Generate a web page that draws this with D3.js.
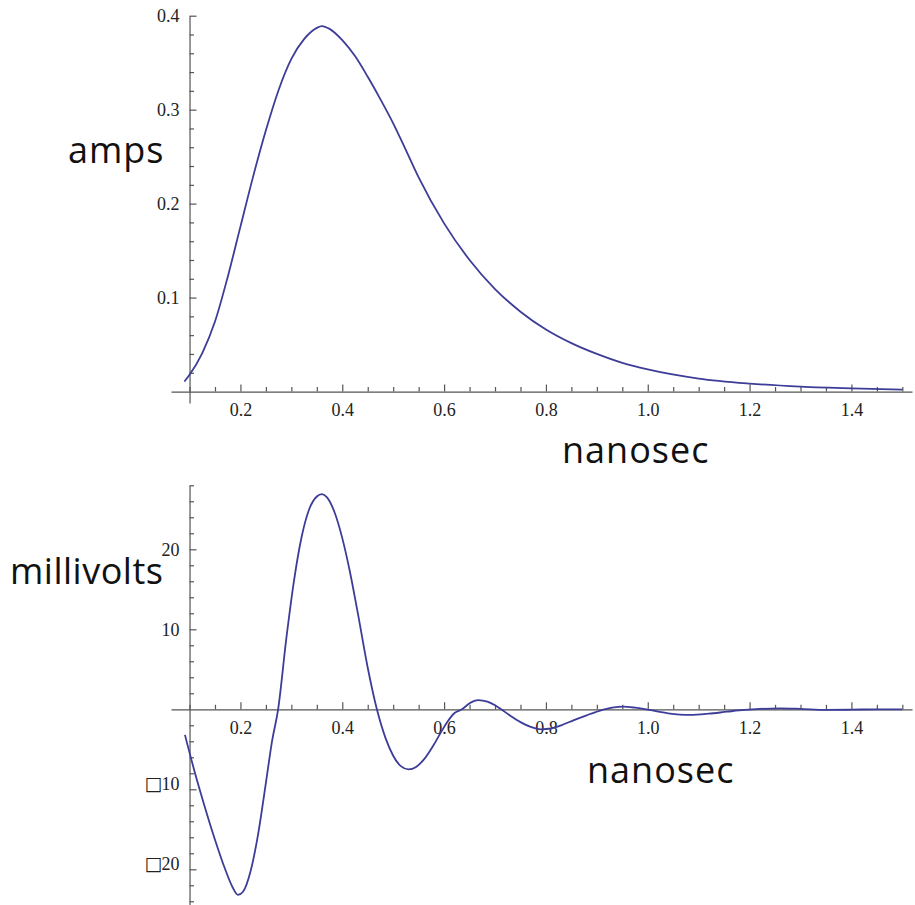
<!DOCTYPE html>
<meta charset="utf-8">

<head>
	<script src="https://cdn.jsdelivr.net/npm/d3@7"></script>
	<style>
		body { margin: 0; background: #fff; }
		.tick text { font-family: "Liberation Serif", serif; font-size: 18px; fill: #222; }
		.axis path, .axis line { stroke: #555; stroke-width: 1.2; }
		.title { font-family: "Open Sans", sans-serif; font-size: 36px; letter-spacing: 1px; fill: #111; }
		.curve { fill: none; stroke: #3d3d99; stroke-width: 1.8; }
	</style>
</head>

<body>
	<svg id="svg"></svg>
</body>
<script>
	// current pulse (top plot)
	var ampT = [0.09, 0.1, 0.125, 0.15, 0.175, 0.2, 0.225, 0.25, 0.275, 0.3, 0.325, 0.35, 0.36, 0.375,
		0.4, 0.425, 0.45, 0.475, 0.5, 0.525, 0.55, 0.6, 0.65, 0.7, 0.75, 0.8, 0.85, 0.9, 0.95, 1.0,
		1.1, 1.2, 1.3, 1.4, 1.5];
	var ampValues = [0.0106, 0.0178, 0.041, 0.0745, 0.122, 0.1755, 0.229, 0.278, 0.321, 0.354, 0.375, 0.387, 0.389, 0.386,
		0.374, 0.357, 0.335, 0.311, 0.2855, 0.257, 0.228, 0.179, 0.140, 0.109, 0.085, 0.066, 0.0515, 0.040, 0.0305, 0.0235,
		0.0138, 0.0085, 0.0052, 0.0033, 0.0021];

	// voltage (bottom plot)
	var mvT = [0.091, 0.11, 0.13, 0.15, 0.17, 0.185, 0.195, 0.205, 0.22, 0.235, 0.25, 0.262, 0.274,
		0.29, 0.305, 0.32, 0.335, 0.35, 0.36, 0.37, 0.385, 0.4, 0.415, 0.43, 0.45, 0.468,
		0.485, 0.5, 0.515, 0.53, 0.545, 0.56, 0.58, 0.6, 0.62, 0.635, 0.65, 0.667, 0.685, 0.7,
		0.712, 0.73, 0.75, 0.77, 0.79, 0.81, 0.83, 0.855, 0.88, 0.905, 0.93, 0.952, 0.975, 1.0,
		1.04, 1.083, 1.12, 1.156, 1.19, 1.22, 1.26, 1.3, 1.35, 1.4, 1.45, 1.5];
	var mvValues = [-3.2, -7.8, -12.2, -16.3, -20.0, -22.3, -23.2, -22.8, -20.2, -15.5, -9.2, -4.0, 0,
		8.8, 16.0, 21.5, 25.0, 26.6, 26.9, 26.5, 24.6, 21.4, 17.2, 12.2, 5.2, 0,
		-3.6, -5.8, -7.1, -7.5, -7.2, -6.3, -4.4, -2.2, -0.5, 0, 0.75, 1.15, 0.95, 0.5,
		0, -0.8, -1.6, -2.2, -2.5, -2.4, -2.0, -1.35, -0.75, -0.2, 0.2, 0.33, 0.2, -0.05,
		-0.5, -0.7, -0.55, -0.3, -0.08, 0.05, 0.12, 0.05, -0.08, -0.05, 0, 0];

	var xTicks = [0.2, 0.4, 0.6, 0.8, 1.0, 1.2, 1.4];
	var xMinor = [0.1, 0.15, 0.25, 0.3, 0.35, 0.45, 0.5, 0.55, 0.65, 0.7, 0.75, 0.85, 0.9, 0.95, 1.05, 1.1, 1.15, 1.25, 1.3, 1.35, 1.45, 1.5];
	var ampTicks = [0.1, 0.2, 0.3, 0.4];
	var ampTickLabels = ["0.1", "0.2", "0.3", "0.4"];
	var ampMinor = [0.02, 0.04, 0.06, 0.08, 0.12, 0.14, 0.16, 0.18, 0.22, 0.24, 0.26, 0.28, 0.32, 0.34, 0.36, 0.38];
	var mvTicks = [-20, -10, 10, 20];
	// the minus sign shows as a missing-glyph box in the original
	var mvTickLabels = ["\u25A120", "\u25A110", "10", "20"];
	var mvMinor = [-24, -22, -18, -16, -14, -12, -8, -6, -4, -2, 2, 4, 6, 8, 12, 14, 16, 18, 22, 24, 26, 28];

	var width = 915, height = 905;

	var svg = d3.select("#svg")
		.attr("width", width)
		.attr("height", height);

	var x = d3.scaleLinear().domain([0.0636, 1.519]).range([171, 912]);

	// top plot scale
	var yAmp = d3.scaleLinear().domain([-0.0122, 0.4]).range([403, 15.7]);
	// bottom plot scale
	var yMv = d3.scaleLinear().domain([-24.5, 28]).range([905.3, 485.3]);

	function drawPlot(y, tVals, vVals, yTicks, yLabels, yMinor) {
		var g = svg.append("g");

		// x axis, ticks pointing up
		var gx = g.append("g").attr("class", "axis")
			.attr("transform", "translate(0," + y(0) + ")");
		gx.call(d3.axisBottom(x).tickValues(xTicks).tickFormat(d3.format(".1f"))
			.tickSizeInner(-7).tickSizeOuter(0).tickPadding(12));
		gx.append("g").call(d3.axisBottom(x).tickValues(xMinor).tickFormat("")
			.tickSizeInner(-4.5).tickSizeOuter(0))
			.select(".domain").remove();

		// y axis, ticks pointing right
		var gy = g.append("g").attr("class", "axis")
			.attr("transform", "translate(" + x(0.1) + ",0)");
		gy.call(d3.axisLeft(y).tickValues(yTicks).tickFormat("")
			.tickSizeInner(-7).tickSizeOuter(0).tickPadding(10));
		gy.append("g").call(d3.axisLeft(y).tickValues(yMinor).tickFormat("")
			.tickSizeInner(-4.5).tickSizeOuter(0))
			.select(".domain").remove();

		// y labels, with a box glyph where the minus was
		gy.selectAll(".tick").filter(d => yTicks.indexOf(d) >= 0)
			.select("text")
			.each(function (d) {
				var s = yLabels[yTicks.indexOf(d)];
				var t = d3.select(this);
				if (s.charAt(0) == "\u25A1") {
					t.append("tspan").attr("font-family", "DejaVu Sans").style("font-size", "19px")
						.attr("dy", "0.02em").text(s.charAt(0));
					t.append("tspan").attr("dy", "-0.02em").attr("dx", "-1").text(s.slice(1));
				} else {
					t.text(s);
				}
			});

		var pts = tVals.map((t, i) => [t, vVals[i]]);
		var line = d3.line()
			.x(d => x(d[0]))
			.y(d => y(d[1]))
			.curve(d3.curveMonotoneX);

		g.append("path")
			.attr("class", "curve")
			.attr("d", line(pts));
	}

	drawPlot(yAmp, ampT, ampValues, ampTicks, ampTickLabels, ampMinor);
	drawPlot(yMv, mvT, mvValues, mvTicks, mvTickLabels, mvMinor);

	// axis titles
	svg.append("text").attr("class", "title").attr("x", 68).attr("y", 163).text("amps");
	svg.append("text").attr("class", "title").attr("x", 562).attr("y", 463).text("nanosec");
	svg.append("text").attr("class", "title").attr("x", 10).attr("y", 584)
		.style("letter-spacing", "0.5px").text("millivolts");
	svg.append("text").attr("class", "title").attr("x", 587).attr("y", 783).text("nanosec");
</script>
